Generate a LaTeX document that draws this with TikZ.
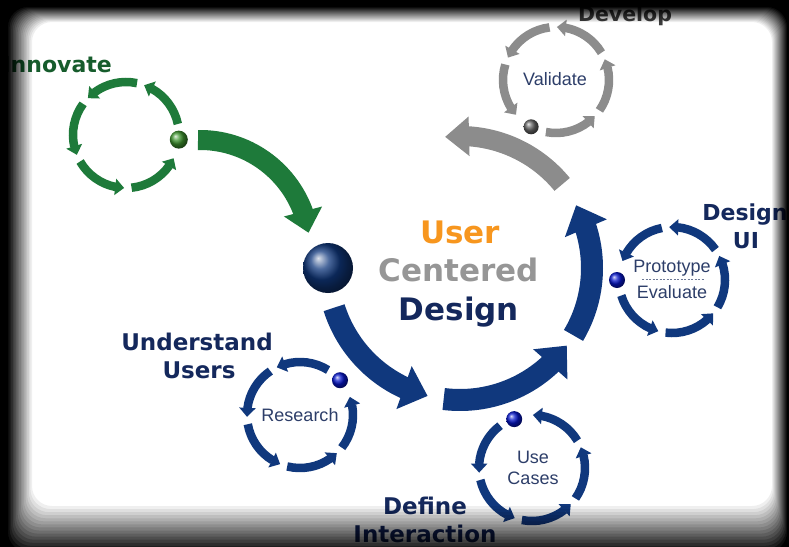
\documentclass[tikz,border=0pt]{standalone}
\usepackage{fontspec}
\setmainfont{Liberation Sans}
\newfontfamily\dvs{DejaVu Sans}
\usetikzlibrary{arrows.meta,bending,calc,shadings}
\definecolor{navyA}{RGB}{16,56,125}
\definecolor{navyT}{RGB}{20,40,92}
\definecolor{greenA}{RGB}{30,122,58}
\definecolor{greenT}{RGB}{22,92,44}
\definecolor{grayA}{RGB}{140,140,140}
\definecolor{grayT}{RGB}{150,150,150}
\definecolor{orangeT}{RGB}{247,150,30}
\definecolor{smallT}{RGB}{45,62,105}
\definecolor{devT}{RGB}{60,60,60}
\tikzset{
  bigarc/.style={line width=22pt,-{Triangle[width=44pt,length=25pt]}},
  grnarc/.style={line width=20pt,draw=greenA,-{Triangle[width=38pt,length=22pt]}},
  gryarc/.style={line width=20pt,draw=grayA,-{Triangle[width=38pt,length=24pt]}},
  bigtxt/.style={anchor=base,font=\dvs\bfseries\fontsize{31}{31}\selectfont},
  lbl/.style={anchor=base,inner sep=0pt,font=\dvs\bfseries\fontsize{23}{23}\selectfont,text=navyT},
  small/.style={anchor=base,font=\fontsize{18}{18}\selectfont,text=smallT},
  ballnode/.style={circle,inner sep=0pt,minimum size=#1,shading=ball},
  pics/cyc/.style n args={2}{code={
    \foreach \k in {0,...,4}{
      \pgfmathsetmacro\sa{#2-17-66*\k}
      \pgfmathsetmacro\ea{#2-75-66*\k}
      \draw[line width=8.5pt,draw=#1,-{Triangle[width=16pt,length=9pt]}]
        (\sa:53) arc[start angle=\sa,end angle=\ea,radius=53];
    }
  }}
}
\begin{document}
\begin{tikzpicture}[x=1pt,y=-1pt]
\useasboundingbox (0,0) rectangle (789,546);
\fill[white] (0,0) rectangle (789,546);

% main cycle
\coordinate (C) at (460,268);
\coordinate (a1) at ($(C)+(162.5:132)$);
\coordinate (a2) at ($(C)+(97.1:132)$);
\coordinate (a3) at ($(C)+(30.7:132)$);
\coordinate (a4) at ($(C)+(-39.3:132)$);
\draw[bigarc,draw=navyA] (a1) arc[start angle=162.5,end angle=104.2,radius=132];
\draw[bigarc,draw=navyA] (a2) arc[start angle=97.1,end angle=36,radius=132];
\draw[bigarc,draw=navyA] (a3) arc[start angle=30.7,end angle=-28.4,radius=132];
\draw[gryarc] (a4) arc[start angle=-39.3,end angle=-96.5,radius=132];
\node[ballnode=50pt,ball color=navyA] (bigball) at ($(C)+(180:132)$) {};

% green arrow
\coordinate (g1) at (198,140);
\draw[grnarc] (g1) arc[start angle=-91,end angle=-9,radius=110];

% small cycles
\coordinate (inn) at (126,135);
\coordinate (val) at (556,80);
\coordinate (pro) at (672,280);
\coordinate (res) at (300,415);
\coordinate (use) at (532,468);
\pic at (inn) {cyc={greenA}{5}};
\pic at (val) {cyc={grayA}{118}};
\pic at (pro) {cyc={navyA}{180}};
\pic at (res) {cyc={navyA}{-41}};
\pic at (use) {cyc={navyA}{-110}};
\node[ballnode=18pt,ball color=greenA!80!lime] (innb) at ($(inn)+(5:53)$) {};
\node[ballnode=15pt,ball color=gray!80!black] (valb) at ($(val)+(118:53)$) {};
\node[ballnode=16pt,ball color=blue!60!navyA] (prob) at ($(pro)+(180:55)$) {};
\node[ballnode=16pt,ball color=blue!60!navyA] (resb) at ($(res)+(-41:53)$) {};
\node[ballnode=16pt,ball color=blue!60!navyA] (useb) at ($(use)+(-110:52)$) {};

% centre text
\node[bigtxt,text=orangeT] (tuser) at (460,243) {User};
\node[bigtxt,text=grayT] (tcent) at (459,281) {Centered};
\node[bigtxt,text=navyT] (tdes) at (459,320) {Design};

% small texts
\node[small] (tval) at (555,85) {Validate};
\node[small] (tres) at (300,421) {Research};
\node[small] (tuse) at (533,463) {Use};
\node[small] (tcas) at (533,484) {Cases};
\node[small] (tpro) at (672,272) {Prototype};
\node[small] (tevl) at (672,298) {Evaluate};
\coordinate (dl) at (642,279);
\coordinate (dr) at (705,279);
\draw[smallT!70,line width=0.8pt,dash pattern=on 2pt off 1.5pt] (dl) -- (dr);

% labels
\node[anchor=base east,inner sep=0pt,font=\dvs\bfseries\fontsize{22}{22}\selectfont,text=greenT] (tinn) at (112,72) {Innovate};
\node[anchor=base,inner sep=0pt,font=\dvs\bfseries\fontsize{20.5}{20.5}\selectfont,text=devT] (tdev) at (625,21) {Develop};
\node[lbl,font=\dvs\bfseries\fontsize{22}{22}\selectfont] (tdui) at (745,220) {Design};
\node[lbl,font=\dvs\bfseries\fontsize{22}{22}\selectfont] (tui) at (746,248) {UI};
\node[lbl] (tund) at (197,350) {Understand};
\node[lbl] (tusr) at (199,378) {Users};
\node[lbl] (tdef) at (425,514) {Define};
\node[lbl] (tint) at (425,542) {Interaction};

% vignette
\foreach \k in {0,...,15}{
  \pgfmathsetmacro\tt{\k/15}
  \pgfmathsetmacro\op{1/(16-\k)}
  \pgfmathsetmacro\lx{32-24*\tt}
  \pgfmathsetmacro\ty{22-15*\tt}
  \pgfmathsetmacro\rx{772+15*\tt}
  \pgfmathsetmacro\by{506+46*\tt}
  \fill[black,fill opacity=\op,even odd rule] (-10,-10) rectangle (800,560)
    [rounded corners=20pt] (\lx,\ty) rectangle (\rx,\by);
}
\end{tikzpicture}
\end{document}
